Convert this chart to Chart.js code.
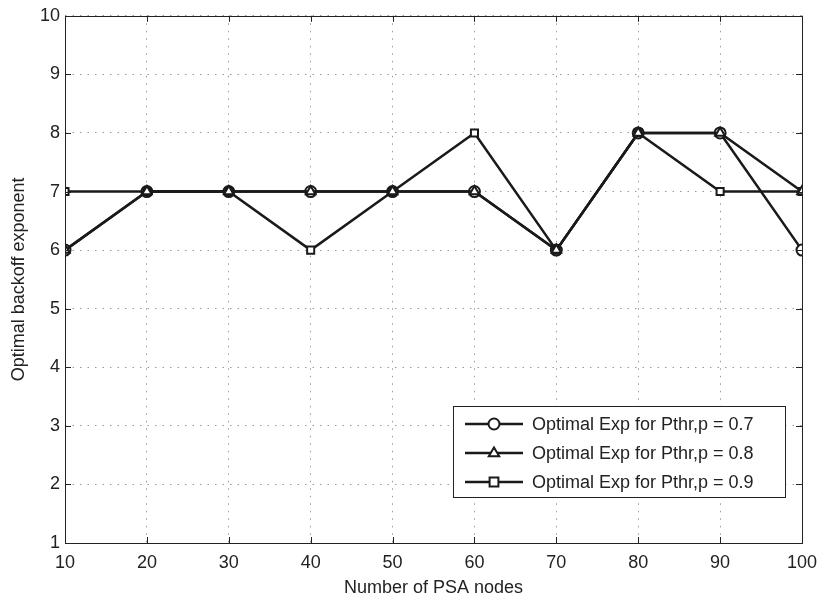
<!DOCTYPE html>
<html>
<head>
<meta charset="utf-8">
<script src="https://cdn.jsdelivr.net/npm/chart.js@4/dist/chart.umd.min.js"></script>
<style>
  html, body { margin: 0; padding: 0; background: #fff; }
  #wrap { width: 820px; height: 599px; position: relative; }
</style>
</head>
<body>
<div id="wrap"><canvas id="grafico"></canvas></div>
<script>
const nodi = [10, 20, 30, 40, 50, 60, 70, 80, 90, 100];
const exp07 = [6, 7, 7, 7, 7, 7, 6, 8, 8, 6];
const exp08 = [6, 7, 7, 7, 7, 7, 6, 8, 8, 7];
const exp09 = [7, 7, 7, 6, 7, 8, 6, 8, 7, 7];
const etichette = ["Optimal Exp for Pthr,p = 0.7", "Optimal Exp for Pthr,p = 0.8", "Optimal Exp for Pthr,p = 0.9"];
const simboli = ["circle", "triangle", "rect"];

const FONT = "'Liberation Sans', Arial, sans-serif";

function punti(valori) {
    return nodi.map((x, i) => ({x: x, y: valori[i]}));
}

// ordine: i triangoli finiscono sopra a tutto come nel grafico matlab
const ordine = [3, 1, 2];

function serie(i, valori) {
    return {
        label: etichette[i],
        data: punti(valori),
        order: ordine[i],
        borderColor: "#1a1a1a",
        borderWidth: 2.5,
        pointStyle: simboli[i],
        pointRadius: i === 2 ? 5 : 5.5,
        pointBorderWidth: 2,
        pointBorderColor: "#1a1a1a",
        pointBackgroundColor: "#fff",
        tension: 0
    };
}

// disegno un simbolo a mano per la legenda
function simbolo(ctx, tipo, x, y, r) {
    ctx.beginPath();
    if (tipo === "circle") {
        ctx.arc(x, y, r, 0, Math.PI * 2);
    } else if (tipo === "triangle") {
        ctx.moveTo(x, y - r);
        ctx.lineTo(x + r * 0.95, y + r * 0.6);
        ctx.lineTo(x - r * 0.95, y + r * 0.6);
        ctx.closePath();
    } else {
        ctx.rect(x - r * 0.8, y - r * 0.8, r * 1.6, r * 1.6);
    }
    ctx.fillStyle = "#fff";
    ctx.fill();
    ctx.lineWidth = 2;
    ctx.strokeStyle = "#1a1a1a";
    ctx.stroke();
}

// cornice e tacche interne stile matlab
const cornice = {
    id: "cornice",
    afterDatasetsDraw(chart) {
        const {ctx, chartArea: a, scales} = chart;
        ctx.save();
        ctx.strokeStyle = "#222";
        ctx.lineWidth = 1;
        ctx.beginPath();
        nodi.forEach(v => {
            const px = Math.round(scales.x.getPixelForValue(v)) + 0.5;
            ctx.moveTo(px, a.bottom); ctx.lineTo(px, a.bottom - 6);
            ctx.moveTo(px, a.top); ctx.lineTo(px, a.top + 6);
        });
        for (let v = 1; v <= 10; v++) {
            const py = Math.round(scales.y.getPixelForValue(v)) + 0.5;
            ctx.moveTo(a.left, py); ctx.lineTo(a.left + 6, py);
            ctx.moveTo(a.right, py); ctx.lineTo(a.right - 6, py);
        }
        ctx.stroke();
        ctx.strokeRect(Math.round(a.left) + 0.5, Math.round(a.top) + 0.5,
            Math.round(a.right - a.left), Math.round(a.bottom - a.top));

        // legenda dentro il grafico
        const bx = 453, by = 406, bw = 332, bh = 91;
        ctx.fillStyle = "#fff";
        ctx.fillRect(bx, by, bw, bh);
        ctx.strokeRect(bx + 0.5, by + 0.5, bw, bh);
        ctx.font = "18px " + FONT;
        ctx.textBaseline = "middle";
        for (let i = 0; i < 3; i++) {
            const y = 424 + i * 29;
            ctx.beginPath();
            ctx.moveTo(465, y); ctx.lineTo(523, y);
            ctx.lineWidth = 2.5;
            ctx.strokeStyle = "#1a1a1a";
            ctx.stroke();
            simbolo(ctx, simboli[i], 494, y, 5.5);
            ctx.fillStyle = "#222";
            ctx.fillText(etichette[i], 532, y + 1);
        }
        ctx.restore();
    }
};

const ctx = document.getElementById("grafico").getContext("2d");

const chart = new Chart(ctx, {
    type: "line",
    data: {
        datasets: [serie(0, exp07), serie(1, exp08), serie(2, exp09)]
    },
    options: {
        responsive: true,
        maintainAspectRatio: false,
        animation: false,
        layout: {padding: {top: 14, right: 0, left: 0, bottom: 0}},
        plugins: {
            legend: {display: false},
            tooltip: {enabled: false}
        },
        scales: {
            x: {
                type: "linear",
                min: 10,
                max: 100,
                afterFit(s) { s.height = 56; s.paddingRight = 18; },
                ticks: {
                    stepSize: 10,
                    padding: 9,
                    color: "#222",
                    font: {family: FONT, size: 18}
                },
                grid: {
                    color: "#9a9a9a",
                    lineWidth: 1,
                    drawTicks: false
                },
                border: {display: false, dash: [1.5, 6]},
                title: {
                    display: true,
                    text: "Number of PSA nodes",
                    color: "#222",
                    font: {family: FONT, size: 18},
                    padding: {top: 0, bottom: 0}
                }
            },
            y: {
                min: 1,
                max: 10,
                afterFit(s) { s.width = 65; },
                ticks: {
                    stepSize: 1,
                    padding: 5,
                    color: "#222",
                    font: {family: FONT, size: 18}
                },
                grid: {
                    color: "#9a9a9a",
                    lineWidth: 1,
                    drawTicks: false
                },
                border: {display: false, dash: [1.5, 6]},
                title: {
                    display: true,
                    text: "Optimal backoff exponent",
                    color: "#222",
                    font: {family: FONT, size: 18},
                    padding: {top: 8, bottom: 0}
                }
            }
        }
    },
    plugins: [cornice]
});
</script>
</body>
</html>
